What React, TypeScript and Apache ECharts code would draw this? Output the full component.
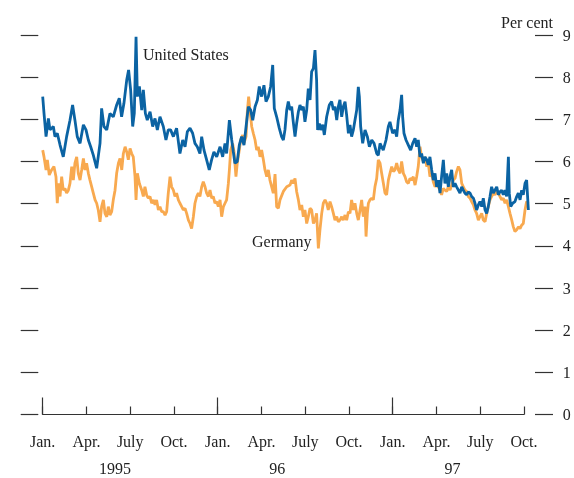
import React, { useEffect, useRef } from 'react';
import * as echarts from 'echarts';

// x values: months since 1 Jan 1995; y values: per cent
const MONTH_LABELS = ['Jan.', 'Apr.', 'July', 'Oct.'];
const YEAR_LABELS = ['1995', '96', '97'];
const YEAR_LABEL_AT = [4.96, 16.09, 28.1];
const MAJOR_TICKS = [0, 12, 24];
const AXIS_END = 33;      // Oct. 1997
const DATA_END = 33.35;   // data runs a little past Oct. 1

const US_YIELD: [number, number][] = [
  [0.00,7.54],[0.09,7.14],[0.23,6.59],[0.39,7.02],[0.50,6.75],[0.73,6.83],[0.84,6.59],[1.00,6.67],[1.19,6.39],[1.41,6.11],
  [1.64,6.59],[1.87,6.98],[2.05,7.34],[2.21,6.98],[2.37,6.59],[2.56,6.43],[2.79,6.87],[2.97,6.75],[3.13,6.51],[3.29,6.35],
  [3.47,6.15],[3.70,5.84],[3.93,6.43],[4.04,7.26],[4.20,6.83],[4.39,6.75],[4.61,7.14],[4.84,7.06],[5.07,7.34],[5.25,7.50],
  [5.41,7.06],[5.57,7.38],[5.76,7.93],[5.89,8.17],[6.03,7.70],[6.17,6.83],[6.28,7.14],[6.40,8.96],[6.49,7.54],[6.63,7.78],
  [6.79,7.22],[6.90,7.70],[7.04,7.14],[7.17,6.98],[7.36,7.18],[7.54,6.83],[7.70,7.02],[7.86,6.75],[8.04,7.06],[8.27,6.83],
  [8.45,6.51],[8.61,6.75],[8.77,6.75],[8.96,6.59],[9.18,6.79],[9.41,6.19],[9.60,6.51],[9.76,6.35],[9.92,6.71],[10.10,6.79],
  [10.28,6.67],[10.44,6.43],[10.60,6.35],[10.78,6.19],[10.90,6.59],[11.06,6.27],[11.24,6.04],[11.42,5.80],[11.58,6.04],[11.74,6.23],
  [11.93,6.11],[12.16,6.35],[12.34,6.11],[12.50,6.43],[12.61,6.19],[12.80,6.98],[12.96,6.51],[13.07,6.23],[13.18,5.96],[13.34,6.00],
  [13.48,6.39],[13.64,6.59],[13.80,6.39],[13.98,6.94],[14.10,7.30],[14.26,7.22],[14.40,6.98],[14.56,7.30],[14.72,7.46],[14.85,7.78],
  [15.01,7.54],[15.17,7.81],[15.31,7.42],[15.47,7.54],[15.63,7.78],[15.77,8.29],[15.88,7.26],[16.04,7.06],[16.22,6.79],[16.38,6.59],
  [16.50,6.51],[16.61,6.75],[16.73,7.22],[16.84,7.42],[16.96,7.22],[17.07,7.30],[17.18,6.94],[17.30,6.59],[17.41,6.90],[17.53,7.18],
  [17.64,7.34],[17.76,7.22],[17.87,7.30],[17.98,6.94],[18.10,7.22],[18.21,7.73],[18.33,7.46],[18.44,8.13],[18.56,8.21],[18.67,8.64],
  [18.78,7.93],[18.85,6.75],[18.97,6.90],[19.06,6.75],[19.20,6.87],[19.31,6.63],[19.47,7.06],[19.65,7.34],[19.81,7.42],[19.93,7.22],
  [20.04,7.30],[20.16,6.98],[20.27,7.30],[20.38,7.46],[20.50,7.06],[20.61,7.30],[20.73,7.42],[20.84,7.10],[20.96,6.67],[21.07,6.87],
  [21.18,6.59],[21.30,6.75],[21.41,6.98],[21.53,7.22],[21.64,7.77],[21.71,7.54],[21.80,6.83],[21.94,6.43],[22.10,6.75],[22.26,6.59],
  [22.40,6.35],[22.56,6.51],[22.72,6.43],[22.90,6.19],[23.01,6.15],[23.13,6.43],[23.24,6.35],[23.35,6.27],[23.54,6.51],[23.70,6.83],
  [23.81,6.94],[23.99,6.67],[24.15,6.75],[24.27,6.59],[24.38,6.98],[24.50,7.22],[24.61,7.58],[24.68,7.06],[24.77,6.67],[24.91,6.51],
  [25.07,6.39],[25.23,6.27],[25.37,6.43],[25.53,6.55],[25.64,6.35],[25.75,6.51],[25.87,6.11],[25.98,6.19],[26.10,5.96],[26.21,6.11],
  [26.33,6.04],[26.44,5.92],[26.55,6.11],[26.67,5.80],[26.78,5.56],[26.90,5.72],[27.01,5.40],[27.13,5.56],[27.24,5.25],[27.35,5.64],
  [27.47,6.04],[27.58,5.48],[27.70,5.72],[27.81,5.40],[27.93,5.64],[28.04,5.80],[28.15,5.40],[28.27,5.48],[28.38,5.40],[28.50,5.32],
  [28.61,5.25],[28.73,5.40],[28.84,5.32],[28.95,5.25],[29.07,5.21],[29.18,5.28],[29.30,5.25],[29.41,5.17],[29.53,5.13],[29.64,5.01],
  [29.75,4.85],[29.87,4.97],[29.98,5.05],[30.10,4.93],[30.21,5.13],[30.33,4.85],[30.44,4.77],[30.55,4.93],[30.67,5.17],[30.78,5.40],
  [30.90,5.25],[31.01,5.32],[31.13,5.40],[31.24,5.21],[31.35,5.28],[31.47,5.32],[31.58,5.21],[31.70,5.32],[31.81,5.17],[31.93,6.11],
  [31.99,5.25],[32.09,4.93],[32.22,5.01],[32.38,5.05],[32.50,5.17],[32.61,5.25],[32.73,5.09],[32.84,5.32],[32.95,5.21],[33.07,5.48],
  [33.18,5.56],[33.30,4.85]
];

const GERMANY_YIELD: [number, number][] = [
  [0.00,6.27],[0.09,6.11],[0.23,5.80],[0.32,6.04],[0.45,5.68],[0.61,5.80],[0.77,5.88],[0.91,5.64],[1.00,5.01],[1.09,5.48],
  [1.19,5.17],[1.30,5.64],[1.41,5.32],[1.53,5.36],[1.64,5.25],[1.76,5.32],[1.87,5.48],[1.99,5.88],[2.10,5.56],[2.21,5.96],
  [2.33,6.11],[2.44,5.72],[2.56,5.56],[2.67,5.80],[2.79,6.07],[2.90,5.80],[3.01,5.96],[3.13,5.72],[3.24,5.56],[3.36,5.40],
  [3.47,5.25],[3.59,5.09],[3.70,5.01],[3.81,4.85],[3.93,4.57],[4.04,4.93],[4.16,5.09],[4.27,4.77],[4.39,4.69],[4.50,4.93],
  [4.61,4.73],[4.73,4.81],[4.84,5.09],[4.96,5.32],[5.07,5.72],[5.19,5.96],[5.30,6.07],[5.42,5.80],[5.53,6.19],[5.65,6.35],
  [5.76,6.23],[5.87,6.04],[5.99,6.31],[6.10,6.19],[6.21,6.11],[6.33,5.64],[6.40,5.09],[6.49,5.72],[6.63,5.48],[6.79,5.32],
  [6.90,5.17],[7.01,5.40],[7.13,5.20],[7.24,5.13],[7.36,5.17],[7.47,5.01],[7.59,5.09],[7.70,4.97],[7.81,5.09],[7.93,4.85],
  [8.04,4.93],[8.16,4.81],[8.27,4.81],[8.39,4.73],[8.50,4.81],[8.61,5.25],[8.73,5.64],[8.84,5.40],[8.96,5.32],[9.07,5.17],
  [9.18,5.25],[9.30,5.09],[9.41,5.01],[9.53,4.93],[9.64,4.85],[9.76,4.89],[9.87,4.77],[9.99,4.61],[10.10,4.53],[10.21,4.41],
  [10.33,4.69],[10.44,5.01],[10.56,5.17],[10.67,5.25],[10.78,5.17],[10.90,5.40],[11.01,5.52],[11.13,5.40],[11.24,5.25],[11.36,5.17],
  [11.47,5.32],[11.59,5.13],[11.70,5.17],[11.81,5.01],[11.93,5.05],[12.04,4.93],[12.16,5.09],[12.27,4.69],[12.39,4.93],[12.50,5.01],
  [12.61,5.09],[12.73,5.48],[12.80,5.80],[12.89,6.27],[13.02,6.43],[13.12,6.23],[13.25,5.64],[13.34,5.96],[13.48,6.27],[13.57,6.51],
  [13.71,6.63],[13.80,6.43],[13.94,6.59],[14.03,7.18],[14.12,7.54],[14.21,7.22],[14.33,6.83],[14.44,6.67],[14.56,6.51],[14.67,6.27],
  [14.78,6.35],[14.90,6.11],[15.01,6.27],[15.13,6.04],[15.24,5.80],[15.36,5.64],[15.47,5.80],[15.58,5.56],[15.70,5.40],[15.81,5.25],
  [15.93,5.70],[16.04,4.93],[16.16,4.89],[16.27,5.09],[16.50,5.29],[16.73,5.40],[16.96,5.44],[17.07,5.56],[17.18,5.48],[17.30,5.60],
  [17.41,5.29],[17.53,5.09],[17.64,4.85],[17.76,4.97],[17.87,4.69],[17.98,4.85],[18.10,4.53],[18.21,4.69],[18.33,4.89],[18.44,4.85],
  [18.56,4.53],[18.67,4.61],[18.78,4.77],[18.90,3.94],[19.01,4.38],[19.13,4.77],[19.24,5.01],[19.36,5.09],[19.47,5.01],[19.58,4.85],
  [19.70,5.05],[19.81,4.93],[19.93,4.77],[20.04,4.61],[20.16,4.69],[20.27,4.57],[20.38,4.61],[20.50,4.69],[20.61,4.61],[20.73,4.73],
  [20.84,4.61],[20.96,4.81],[21.07,4.77],[21.18,5.09],[21.30,4.85],[21.41,5.01],[21.53,4.77],[21.64,4.61],[21.76,4.85],[21.87,5.09],
  [21.98,4.69],[22.10,4.93],[22.17,4.22],[22.26,4.77],[22.33,5.01],[22.44,5.09],[22.56,5.13],[22.67,5.09],[22.78,5.40],[22.90,5.60],
  [23.01,6.04],[23.13,5.96],[23.24,5.72],[23.36,5.48],[23.47,5.25],[23.58,5.21],[23.70,5.56],[23.81,5.72],[23.93,5.88],[24.04,5.76],
  [24.15,5.80],[24.27,5.96],[24.38,5.80],[24.50,5.72],[24.61,6.00],[24.73,5.72],[24.84,5.64],[24.95,5.52],[25.07,5.48],[25.18,5.60],
  [25.30,5.56],[25.41,5.64],[25.53,5.44],[25.64,5.64],[25.75,5.88],[25.87,6.35],[25.98,6.11],[26.10,6.00],[26.21,6.11],[26.33,5.88],
  [26.44,5.96],[26.55,5.64],[26.67,5.72],[26.78,5.52],[26.90,5.40],[27.01,5.48],[27.13,5.40],[27.24,5.32],[27.35,5.21],[27.47,5.36],
  [27.58,5.32],[27.70,5.29],[27.81,5.40],[27.93,5.32],[28.04,5.44],[28.15,5.56],[28.27,5.60],[28.38,5.76],[28.50,5.88],[28.61,5.80],
  [28.73,5.48],[28.84,5.40],[28.95,5.32],[29.07,5.29],[29.18,5.17],[29.30,5.13],[29.41,5.05],[29.53,4.97],[29.64,4.85],[29.75,4.77],
  [29.87,4.61],[29.98,4.69],[30.10,4.77],[30.21,4.61],[30.33,4.57],[30.44,4.77],[30.55,4.93],[30.67,5.09],[30.78,5.17],[30.90,5.25],
  [31.01,5.21],[31.13,5.29],[31.24,5.25],[31.35,5.17],[31.47,5.09],[31.58,5.13],[31.70,5.01],[31.81,5.09],[31.93,4.93],[32.04,4.77],
  [32.16,4.61],[32.27,4.45],[32.38,4.34],[32.50,4.38],[32.61,4.45],[32.73,4.41],[32.84,4.49],[32.95,4.53],[33.07,4.85],[33.18,5.05],
  [33.30,5.01]
];

export default function App() {
  const ref = useRef<HTMLDivElement>(null);
  useEffect(() => {
    const chart = echarts.init(ref.current!, null, { renderer: 'svg' });
    const font = 'Liberation Serif';
    const ink = '#222';
    const axisColor = '#333';
    const left = 42.7;
    const pxPerMonth = (524 - left) / AXIS_END;
    const dataRight = 574 - (left + DATA_END * pxPerMonth);
    const hidden = {
      axisLine: { show: false, onZero: false }, axisTick: { show: false },
      axisLabel: { show: false }, splitLine: { show: false },
    };
    chart.setOption({
      animation: false,
      textStyle: { fontFamily: font },
      grid: [
        { left, right: dataRight, top: 35, bottom: 63.5, containLabel: false, outerBoundsMode: 'none' },
        { left, right: 50, top: 35, bottom: 63.5, containLabel: false, outerBoundsMode: 'none' },
      ],
      xAxis: [
        { type: 'value', gridIndex: 0, min: 0, max: DATA_END, ...hidden },
        {
          type: 'value', gridIndex: 1, min: 0, max: AXIS_END, interval: 3, position: 'bottom',
          axisLine: { show: true, onZero: false, lineStyle: { color: axisColor, width: 1.2 } },
          axisTick: { show: true, inside: true, length: 8, lineStyle: { color: axisColor, width: 1.2 } },
          axisLabel: {
            margin: 19, fontSize: 16, color: ink, fontFamily: font,
            formatter: (v: number) => MONTH_LABELS[Math.round(v / 3) % 4],
          },
          splitLine: { show: false },
        },
        {
          type: 'value', gridIndex: 1, min: 0, max: AXIS_END, position: 'bottom',
          axisLine: { show: false, onZero: false },
          axisTick: { show: true, inside: true, length: 17, customValues: MAJOR_TICKS, lineStyle: { color: axisColor, width: 1.2 } },
          axisLabel: {
            customValues: YEAR_LABEL_AT, margin: 47.5, fontSize: 16, lineHeight: 12, color: ink, fontFamily: font,
            formatter: (v: number) => YEAR_LABELS[YEAR_LABEL_AT.indexOf(v)] ?? '',
          },
          splitLine: { show: false },
        },
      ],
      yAxis: [
        { type: 'value', gridIndex: 0, min: 0, max: 9, ...hidden },
        {
          type: 'value', gridIndex: 1, position: 'left', min: 0, max: 9, interval: 1, offset: 4.4,
          axisLine: { show: false, onZero: false },
          axisTick: { show: true, length: 17.6, lineStyle: { color: axisColor, width: 1.2 } },
          axisLabel: { show: false },
          splitLine: { show: false },
        },
        {
          type: 'value', gridIndex: 1, position: 'right', min: 0, max: 9, interval: 1, offset: 11,
          axisLine: { show: false, onZero: false },
          axisTick: { show: true, length: 18, lineStyle: { color: axisColor, width: 1.2 } },
          axisLabel: { margin: 27.7, fontSize: 16, color: ink, fontFamily: font },
          splitLine: { show: false },
          name: 'Per cent', nameLocation: 'end', nameGap: 5,
          nameTextStyle: { fontSize: 16, color: ink, fontFamily: font, padding: [0, 16, 0, 0] },
        },
      ],
      graphic: [
        { type: 'text', left: 143, top: 46, style: { text: 'United States', fontSize: 16, fontFamily: font, fill: ink } },
        { type: 'text', left: 252, top: 233, style: { text: 'Germany', fontSize: 16, fontFamily: font, fill: ink } },
      ],
      series: [
        {
          type: 'line', name: 'Germany', data: GERMANY_YIELD, xAxisIndex: 0, yAxisIndex: 0,
          symbol: 'none', showSymbol: false, z: 2,
          lineStyle: { color: '#f8a94f', width: 2.8 }, itemStyle: { color: '#f8a94f' },
        },
        {
          type: 'line', name: 'United States', data: US_YIELD, xAxisIndex: 0, yAxisIndex: 0,
          symbol: 'none', showSymbol: false, z: 3,
          lineStyle: { color: '#0b63a3', width: 2.8 }, itemStyle: { color: '#0b63a3' },
        },
      ],
    });
    return () => chart.dispose();
  }, []);
  return <div ref={ref} style={{ position: 'fixed', left: 0, top: 0, width: 574, height: 478 }} />;
}
